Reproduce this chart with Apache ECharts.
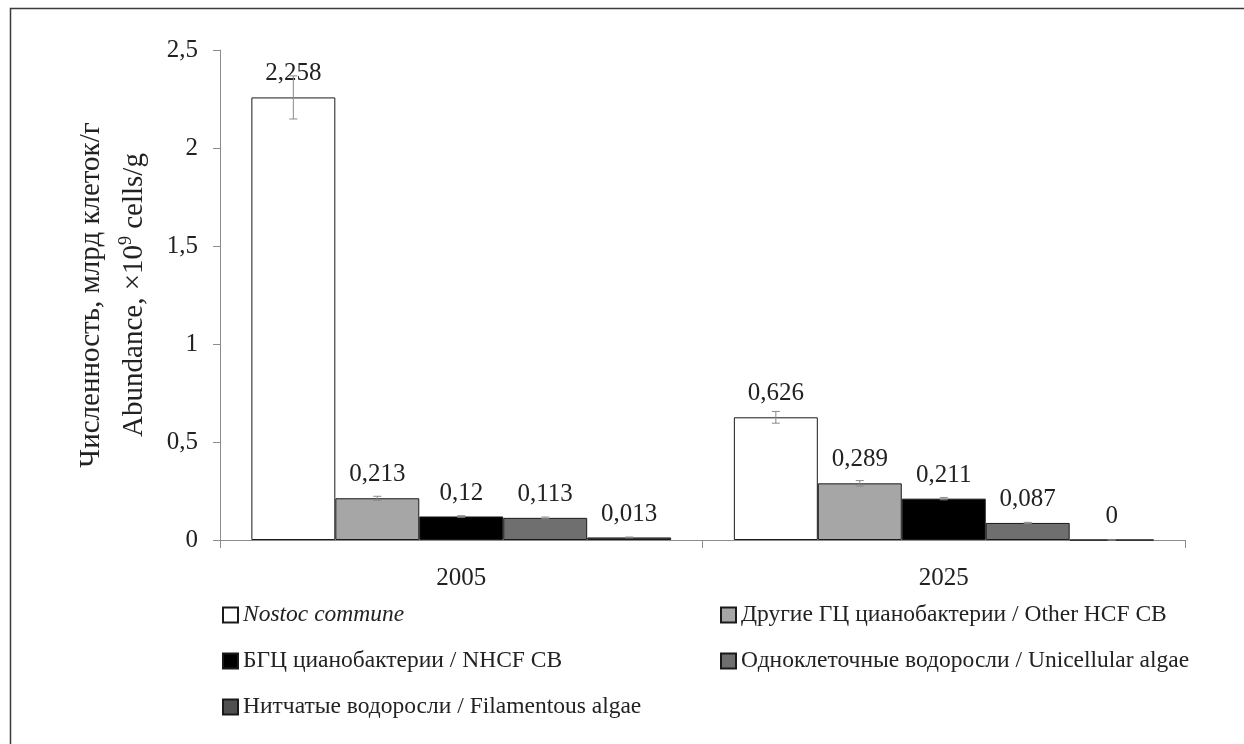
<!DOCTYPE html>
<html><head><meta charset="utf-8">
<script src="https://cdn.jsdelivr.net/npm/echarts@6/dist/echarts.min.js"></script>
<style>html,body{margin:0;padding:0;background:#fff}#c{width:1244px;height:744px}</style>
</head><body><div id="c"></div>
<script>
const categories = ['2005', '2025'];
const seriesNames = ['Nostoc commune', 'Другие ГЦ цианобактерии / Other HCF CB', 'БГЦ цианобактерии / NHCF CB', 'Одноклеточные водоросли / Unicellular algae', 'Нитчатые водоросли / Filamentous algae'];
const nostoc = [2.258, 0.626];
const otherHCF = [0.213, 0.289];
const nhcf = [0.12, 0.211];
const unicellular = [0.113, 0.087];
const filamentous = [0.013, 0];
const errNostoc = [0.11, 0.03];
const errOtherHCF = [0.01, 0.014];
const errNhcf = [0.004, 0.006];
const errUnicellular = [0.004, 0.003];
const errFilamentous = [0.002, 0];
const yTicks = [0, 0.5, 1, 1.5, 2, 2.5];

const values = [nostoc, otherHCF, nhcf, unicellular, filamentous];
const errors = [errNostoc, errOtherHCF, errNhcf, errUnicellular, errFilamentous];
const colors = ['#ffffff', '#a6a6a6', '#000000', '#6f6f6f', '#4f4f4f'];
const SERIF = '"Liberation Serif", "Times New Roman", serif';
const GAP = 0.13;
const fmt = v => String(v).replace('.', ',');

const chart = echarts.init(document.getElementById('c'));
const series = values.map((arr, i) => ({
  name: seriesNames[i], type: 'bar', data: arr,
  barGap: '0%', barCategoryGap: (GAP * 100) + '%',
  itemStyle: { color: colors[i], borderColor: '#1a1a1a', borderWidth: 1 },
  label: { show: true, position: 'top', distance: 11, fontFamily: SERIF, fontSize: 25, color: '#222',
    formatter: p => fmt(p.value) },
  z: 2
}));
const errData = [];
values.forEach((arr, i) => arr.forEach((v, j) => errData.push([j, i, v - errors[i][j], v + errors[i][j]])));
series.push({
  type: 'custom', name: 'err', data: errData, z: 5, silent: true,
  encode: { x: 0, y: [2, 3] },
  renderItem: (params, api) => {
    const j = api.value(0), i = api.value(1);
    const w = api.size([1, 0])[0];
    const bw = w * (1 - GAP) / values.length;
    const c = api.coord([j, 0])[0] - w * (1 - GAP) / 2 + bw * (i + 0.5);
    const lo = api.coord([j, api.value(2)])[1];
    const hi = api.coord([j, api.value(3)])[1];
    const cap = 4;
    const st = { stroke: '#8a8a8a', lineWidth: 1, fill: null };
    return { type: 'group', children: [
      { type: 'line', shape: { x1: c, y1: lo, x2: c, y2: hi }, style: st },
      { type: 'line', shape: { x1: c - cap, y1: lo, x2: c + cap, y2: lo }, style: st },
      { type: 'line', shape: { x1: c - cap, y1: hi, x2: c + cap, y2: hi }, style: st }
    ]};
  }
});

const legendText = { fontFamily: SERIF, fontSize: 23.5, color: '#222', lineHeight: 24,
  rich: { i: { fontFamily: SERIF, fontSize: 23.5, fontStyle: 'italic', color: '#222', lineHeight: 24 } } };
const legendFmt = n => n === 'Nostoc commune' ? '{i|' + n + '}' : n;

chart.setOption({
  animation: false,
  backgroundColor: '#fff',
  graphic: [{ type: 'rect', shape: { x: 10.5, y: 8.5, width: 1300, height: 800 },
    style: { fill: null, stroke: '#3a3a3a', lineWidth: 1.5 }, silent: true, z: 0 }],
  grid: { left: 220, right: 59, top: 50, bottom: 204 },
  legend: [
    { data: [seriesNames[0], seriesNames[2], seriesNames[4]], orient: 'vertical', left: 222, top: 603, padding: 0,
      itemWidth: 15, itemHeight: 15, itemGap: 22, icon: 'rect', textStyle: legendText, formatter: legendFmt },
    { data: [seriesNames[1], seriesNames[3]], orient: 'vertical', left: 720, top: 603, padding: 0,
      itemWidth: 15, itemHeight: 15, itemGap: 22, icon: 'rect', textStyle: legendText, formatter: legendFmt }
  ],
  xAxis: {
    type: 'category', data: categories,
    axisLine: { lineStyle: { color: '#8c8c8c', width: 1 } },
    axisTick: { show: true, length: 8, lineStyle: { color: '#8c8c8c' } },
    axisLabel: { fontFamily: SERIF, fontSize: 25, color: '#222', margin: 26 }
  },
  yAxis: {
    type: 'value', min: 0, max: 2.5, interval: 0.5,
    splitLine: { show: false },
    axisLine: { show: true, lineStyle: { color: '#8c8c8c', width: 1 } },
    axisTick: { show: true, length: 7, lineStyle: { color: '#8c8c8c' } },
    axisLabel: { fontFamily: SERIF, fontSize: 25, color: '#222', margin: 22,
      formatter: v => yTicks.indexOf(v) >= 0 ? fmt(v) : '' },
    name: '{t|Численность, млрд клеток/г}\n{t|Abundance, ×10}{s|9}{t| cells/g}',
    nameLocation: 'middle', nameRotate: 90, nameGap: 52,
    nameTextStyle: { fontFamily: SERIF, fontSize: 29, color: '#222', lineHeight: 43,
      rich: { t: { fontFamily: SERIF, fontSize: 29, color: '#222', lineHeight: 43 },
              s: { fontFamily: SERIF, fontSize: 18, color: '#222', lineHeight: 43, padding: [0, 0, 16, 0] } } }
  },
  series: series
});
</script></body></html>
